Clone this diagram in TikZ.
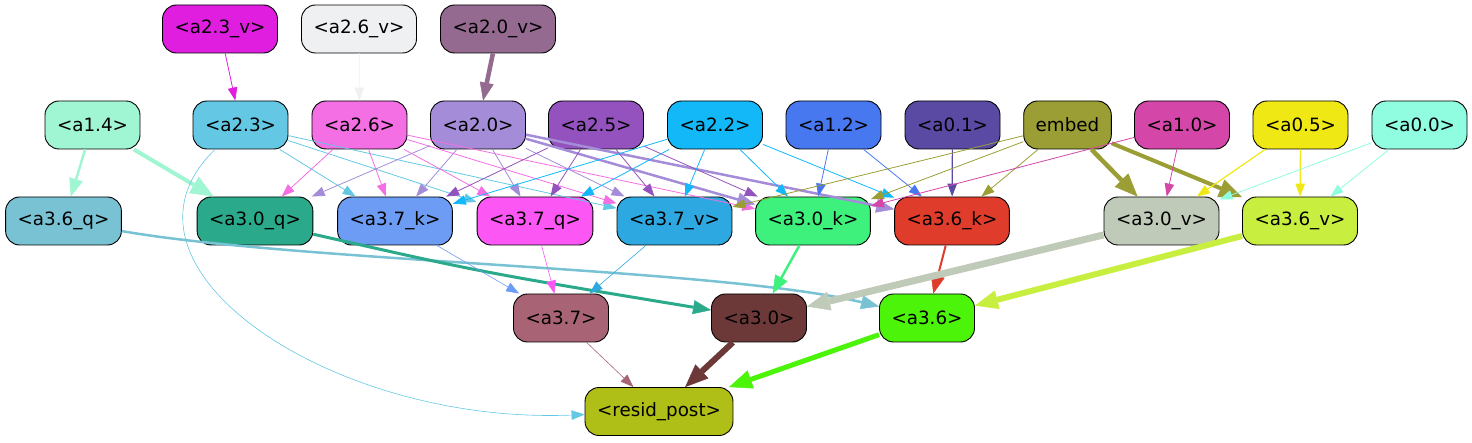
\documentclass[tikz,border=0pt]{standalone}
\usepackage{fontspec}
\setmainfont{DejaVu Sans}
\usetikzlibrary{arrows.meta}
\usepackage{xcolor}
\definecolor{c23v}{HTML}{E01EE0}
\definecolor{c26v}{HTML}{EEF0F2}
\definecolor{c20v}{HTML}{946A90}
\definecolor{c14}{HTML}{A0F5D2}
\definecolor{c23}{HTML}{64C8E4}
\definecolor{c26}{HTML}{F46EE4}
\definecolor{c20}{HTML}{A48CD8}
\definecolor{c25}{HTML}{9452BE}
\definecolor{c22}{HTML}{12B8F8}
\definecolor{c12}{HTML}{4878F0}
\definecolor{c01}{HTML}{5A4AA4}
\definecolor{cemb}{HTML}{9A9E34}
\definecolor{c10}{HTML}{D446A8}
\definecolor{c05}{HTML}{F0E814}
\definecolor{c00}{HTML}{90FCE0}
\definecolor{c36q}{HTML}{78C2D4}
\definecolor{c30q}{HTML}{2AAA8A}
\definecolor{c37k}{HTML}{6C9CF4}
\definecolor{c37q}{HTML}{FC56F4}
\definecolor{c37v}{HTML}{2EA8E0}
\definecolor{c30k}{HTML}{3EF07C}
\definecolor{c36k}{HTML}{E03C2C}
\definecolor{c30v}{HTML}{C0CAB8}
\definecolor{c36v}{HTML}{C8EE40}
\definecolor{c37}{HTML}{A86474}
\definecolor{c30}{HTML}{6C3838}
\definecolor{c36}{HTML}{4CF40A}
\definecolor{cpost}{HTML}{B0BE18}

\begin{document}
\begin{tikzpicture}[x=1pt, y=-1pt,
  hd/.style={draw, line width=0.9pt, rounded corners=14pt, minimum height=48pt,
    inner xsep=12pt, font=\fontsize{18.3}{22}\selectfont},
  e/.style={-{Triangle[length=13pt,width=9.5pt]}, line width=0.8pt},
  ew/.style={-{Triangle[length=18pt,width=14pt,line width=0.5pt]}},
  ewx/.style={-{Triangle[length=23pt,width=19pt,line width=0.5pt]}}]
\useasboundingbox (0,0) rectangle (1472,443);
% top row
\node[hd, fill=c23v] (a23v) at (220,29) {<a2.3\_v>};
\node[hd, fill=c26v] (a26v) at (359,29) {<a2.6\_v>};
\node[hd, fill=c20v] (a20v) at (498,29) {<a2.0\_v>};
% heads
\node[hd, fill=c14] (a14) at (92.5,125) {<a1.4>};
\node[hd, fill=c23] (a23) at (240.5,125) {<a2.3>};
\node[hd, fill=c26] (a26) at (359.5,125) {<a2.6>};
\node[hd, fill=c20] (a20) at (478,125) {<a2.0>};
\node[hd, fill=c25] (a25) at (596,125) {<a2.5>};
\node[hd, fill=c22] (a22) at (715,125) {<a2.2>};
\node[hd, fill=c12] (a12) at (833.5,125) {<a1.2>};
\node[hd, fill=c01] (a01) at (952.5,125) {<a0.1>};
\node[hd, fill=cemb] (embed) at (1067.5,125) {embed};
\node[hd, fill=c10] (a10) at (1182,125) {<a1.0>};
\node[hd, fill=c05] (a05) at (1300.5,125) {<a0.5>};
\node[hd, fill=c00] (a00) at (1419.5,125) {<a0.0>};
% q/k/v inputs
\node[hd, fill=c36q] (a36q) at (63.5,221) {<a3.6\_q>};
\node[hd, fill=c30q] (a30q) at (255,221) {<a3.0\_q>};
\node[hd, fill=c37k] (a37k) at (395,221) {<a3.7\_k>};
\node[hd, fill=c37q] (a37q) at (535,221) {<a3.7\_q>};
\node[hd, fill=c37v] (a37v) at (674.5,221) {<a3.7\_v>};
\node[hd, fill=c30k] (a30k) at (813,221) {<a3.0\_k>};
\node[hd, fill=c36k] (a36k) at (952,221) {<a3.6\_k>};
\node[hd, fill=c30v] (a30v) at (1161.5,221) {<a3.0\_v>};
\node[hd, fill=c36v] (a36v) at (1300,221) {<a3.6\_v>};
% layer 3 heads
\node[hd, fill=c37] (a37) at (561,318) {<a3.7>};
\node[hd, fill=c30] (a30) at (759,318) {<a3.0>};
\node[hd, fill=c36] (a36) at (927,318) {<a3.6>};
\node[hd, fill=cpost] (post) at (659,411.5) {<resid\_post>};
% edges
\draw[e, c23v] (a23v) -- (a23);
\draw[e, c26v] (a26v) -- (a26);
\draw[ew, c20v, line width=4.5pt] (a20v) -- (a20);
\draw[ew, c14, line width=2.5pt] (a14) -- (a36q);
\draw[ewx, c14, line width=4pt] (a14) -- (a30q);
\foreach \t in {a37k,a37q,a37v} \draw[e, c23] (a23) -- (\t);
\draw[e, c23, line width=0.6pt] (a23) .. controls (95,265) and (330,425) .. (post);
\foreach \t in {a30q,a37k,a37q,a37v,a30k} \draw[e, c26] (a26) -- (\t);
\foreach \t in {a30q,a37k,a37q,a37v} \draw[e, c20] (a20) -- (\t);
\foreach \t in {a30k,a36k} \draw[ew, c20, line width=2.5pt] (a20) -- (\t);
\foreach \t in {a37k,a37q,a37v,a30k} \draw[e, c25] (a25) -- (\t);
\foreach \t in {a37k,a37q,a37v,a30k,a36k} \draw[e, c22] (a22) -- (\t);
\foreach \t in {a30k,a36k} \draw[e, c12] (a12) -- (\t);
\draw[e, c01, line width=1.2pt] (a01) -- (a36k);
\foreach \t in {a37v,a30k,a36k} \draw[e, cemb] (embed) -- (\t);
\draw[ewx, cemb, line width=4.5pt] (embed) -- (a30v);
\draw[ewx, cemb, line width=4pt] (embed) -- (a36v);
\foreach \t in {a30k,a30v} \draw[e, c10] (a10) -- (\t);
\foreach \t in {a30v,a36v} \draw[e, c05, line width=1.2pt] (a05) -- (\t);
\foreach \t in {a30v,a36v} \draw[e, c00] (a00) -- (\t);
\draw[ew, c36q, line width=2.5pt] (a36q) .. controls (300,262) and (720,268) .. (a36);
\draw[ew, c30q, line width=3pt] (a30q) .. controls (480,272) .. (a30);
\draw[e, c37k, line width=0.6pt] (a37k) -- (a37);
\draw[e, c37q, line width=0.6pt] (a37q) -- (a37);
\draw[e, c37v, line width=0.6pt] (a37v) -- (a37);
\draw[ew, c30k, line width=2.5pt] (a30k) -- (a30);
\draw[ew, c36k, line width=2pt] (a36k) -- (a36);
\draw[ewx, c30v, line width=7pt] (a30v) -- (a30);
\draw[ewx, c36v, line width=6pt] (a36v) -- (a36);
\draw[e, c37, line width=0.6pt] (a37) -- (post);
\draw[ewx, c30, line width=6pt] (a30) -- (post);
\draw[ewx, c36, line width=5pt] (a36) -- (post);
\end{tikzpicture}
\end{document}
